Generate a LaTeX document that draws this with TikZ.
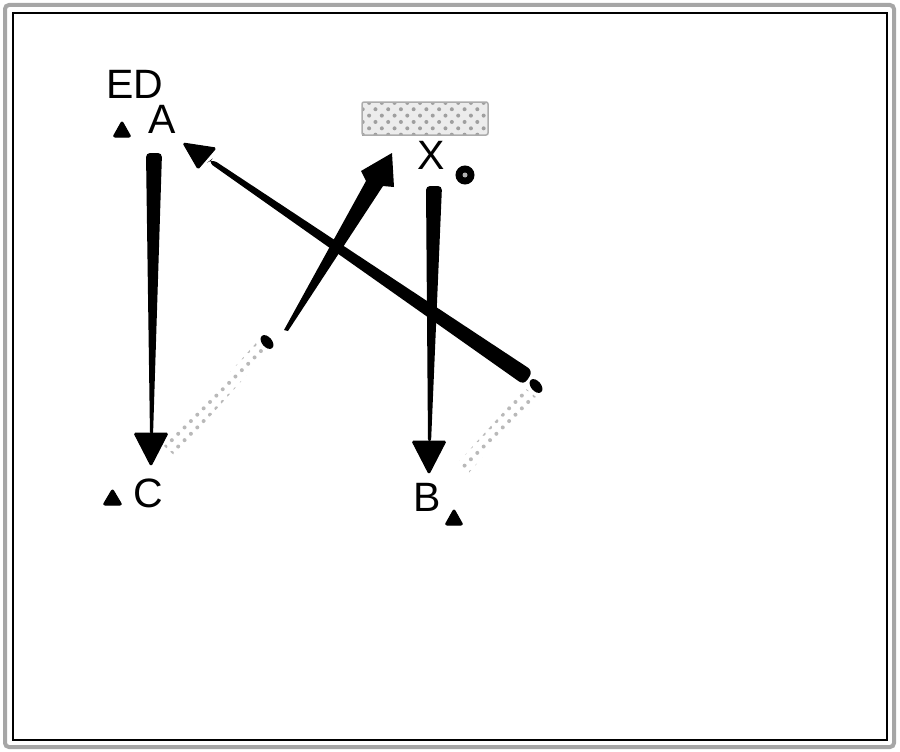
\documentclass[tikz,border=0pt]{standalone}
\usepackage{fontspec}
\setmainfont{Liberation Sans}
\usetikzlibrary{patterns.meta}
\begin{document}
\begin{tikzpicture}[x=1pt,y=-1pt,
  lbl/.style={inner sep=0pt,font=\fontsize{41}{44}\selectfont},
  head/.style={fill=black,draw=black,line width=1pt,line join=round,rounded corners=1.5pt},
  shaft/.style={fill=black,rounded corners=4pt},
  tri/.style={fill=black,draw=black,line width=1pt,line join=round,rounded corners=2pt},
  dotband/.style={pattern={Dots[distance=9pt,angle=45,radius=2pt]},pattern color=gray!55}]
\useasboundingbox (0,0) rectangle (900,752);
% frame
\draw[gray!70,line width=4pt,rounded corners=4pt] (5,5) rectangle (894,747);
\draw[black,line width=1.2pt] (13,13) rectangle (887,740);
% labels
\node[lbl] (ED) at (135,84) {ED};
\node[lbl] (A) at (162,119) {A};
\node[lbl] (X) at (431,155) {X};
\node[lbl] (C) at (148,493) {C};
\node[lbl] (B) at (427,497) {B};
% small markers
\draw[tri] (113,137) -- (131,137) -- (122,121) -- cycle;
\draw[tri] (103,505) -- (122,505) -- (112.5,489) -- cycle;
\draw[tri] (445,525) -- (463,525) -- (454,509) -- cycle;
\draw[fill=black,draw=black,line width=1pt] (465,175) circle (9);
\fill[gray!60] (465,175) circle (2.5);
% hatched box
\coordinate (boxNW) at (362,102);
\coordinate (boxSE) at (488,135);
\fill[gray!15] (boxNW) rectangle (boxSE);
\fill[pattern={Dots[distance=9pt,angle=45,radius=2pt]},pattern color=gray!75] (boxNW) rectangle (boxSE);
\draw[gray!65,line width=1.5pt,rounded corners=2pt] (boxNW) rectangle (boxSE);
% dotted bands
\fill[dotband] (164,446) -- (257,342) -- (268,351) -- (175,456) -- cycle;
\fill[dotband] (455,466) -- (525,388) -- (536,397) -- (466,476) -- cycle;
\fill[black,rotate around={40:(267,342)}] (267,342) ellipse (5 and 8);
\fill[black,rotate around={40:(536,386)}] (536,386) ellipse (5 and 8);
% arrow A -> C
\coordinate (acTop) at (154,153);
\coordinate (acTip) at (151,466);
\fill[shaft] (146,153) -- (162,153) -- (153,436) -- (150,436) -- cycle;
\draw[head] (134,433) -- (168,433) -- (acTip) -- cycle;
% arrow X -> B
\coordinate (xbTop) at (434,186);
\coordinate (xbTip) at (429,474);
\fill[shaft] (426,186) -- (442,186) -- (431,443) -- (428,443) -- cycle;
\draw[head] (412,441) -- (446,441) -- (xbTip) -- cycle;
% diagonal to A
\fill[black,rounded corners=6pt] (208,162) -- (212,159) -- (533,371) -- (524,385) -- cycle;
\draw[head] (183,143) -- (216,148) -- (198,169) -- cycle;
% up arrow to hatched box
\fill[black,line join=round] (284,330) -- (366,181) -- (361,171) -- (392,153) -- (394,187) -- (383,186) -- (288,331) -- cycle;
\end{tikzpicture}
\end{document}
